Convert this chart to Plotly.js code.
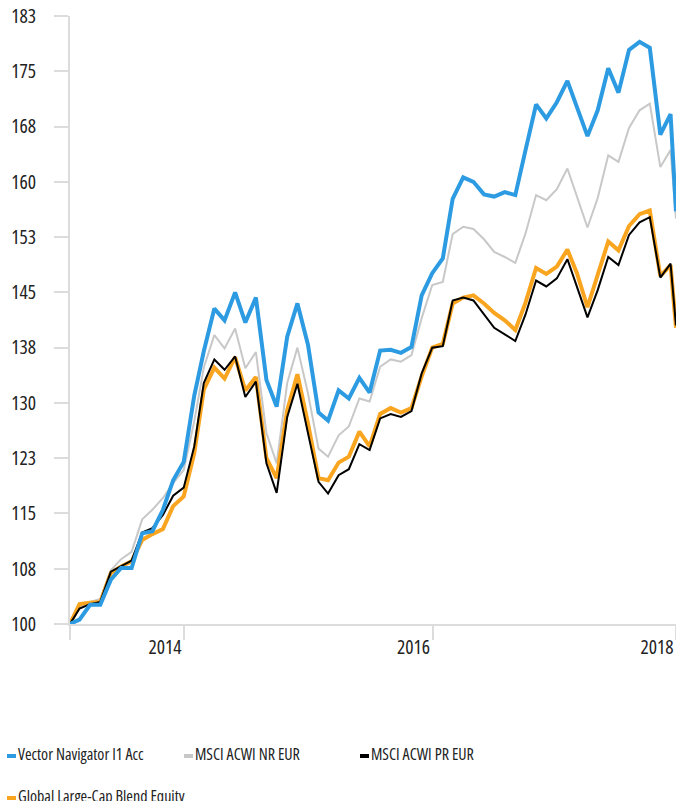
<!DOCTYPE html>
<html><head><meta charset="utf-8">
<script src="https://cdn.plot.ly/plotly-3.0.1.min.js"></script>
<style>html,body{margin:0;padding:0;background:#fff;} #chart{width:676px;height:801px;} svg text{font-stretch:75% !important;}</style>
</head><body><div id="chart"></div>
<script>
const dates = [
 '2013-01-31','2013-02-28','2013-03-31','2013-04-30','2013-05-31','2013-06-30','2013-07-31','2013-08-31','2013-09-30','2013-10-31','2013-11-30','2013-12-31',
 '2014-01-31','2014-02-28','2014-03-31','2014-04-30','2014-05-31','2014-06-30','2014-07-31','2014-08-31','2014-09-30','2014-10-31','2014-11-30','2014-12-31',
 '2015-01-31','2015-02-28','2015-03-31','2015-04-30','2015-05-31','2015-06-30','2015-07-31','2015-08-31','2015-09-30','2015-10-31','2015-11-30','2015-12-31',
 '2016-01-31','2016-02-29','2016-03-31','2016-04-30','2016-05-31','2016-06-30','2016-07-31','2016-08-31','2016-09-30','2016-10-31','2016-11-30','2016-12-31',
 '2017-01-31','2017-02-28','2017-03-31','2017-04-30','2017-05-31','2017-06-30','2017-07-31','2017-08-31','2017-09-30','2017-10-31','2017-11-30','2017-12-16'
];

const seriesNames = ['Vector Navigator I1 Acc','MSCI ACWI NR EUR','MSCI ACWI PR EUR','Global Large-Cap Blend Equity'];

const fundValues = [
 100.0,100.6,102.6,102.6,106.0,107.6,107.6,112.3,112.6,115.5,119.5,122.0,
 131.0,137.0,142.8,141.2,145.0,140.9,144.3,133.1,129.5,139.0,143.5,137.9,
 128.7,127.6,131.7,130.6,133.4,131.4,137.1,137.2,136.8,137.6,144.6,147.6,
 149.6,157.7,160.6,160.0,158.3,158.0,158.6,158.2,164.3,170.5,168.6,170.8,
 173.7,170.1,166.2,169.7,175.4,172.1,177.9,179.0,178.2,166.4,169.2,156.0
];
const acwiNrValues = [
 100.0,102.3,103.0,103.4,107.3,108.8,109.8,114.2,115.5,117.1,119.1,120.9,
 127.5,134.8,139.2,137.4,140.1,134.7,136.9,125.9,121.8,132.7,137.5,131.3,
 123.8,122.7,125.6,126.8,130.6,130.2,134.9,135.9,135.6,136.5,141.5,146.0,
 146.4,152.9,153.9,153.6,152.2,150.5,149.8,149.0,153.0,158.2,157.5,159.0,
 161.8,157.9,153.8,157.8,163.6,162.7,167.3,169.7,170.6,162.0,164.3,155.0
];
const acwiPrValues = [
 100.0,102.1,102.7,103.0,107.1,107.8,108.6,112.4,113.0,114.8,117.4,118.5,
 124.1,132.7,135.9,134.5,136.3,130.8,132.9,121.8,117.8,128.1,132.6,125.9,
 119.3,117.7,120.2,121.0,124.4,123.6,127.9,128.5,128.1,128.9,134.0,137.5,
 137.7,143.9,144.3,143.9,142.0,140.2,139.3,138.4,142.0,146.6,145.8,146.9,
 149.5,145.8,141.6,145.3,149.8,148.7,152.8,154.5,155.2,147.0,148.9,140.5
];
const categoryValues = [
 100.0,102.7,102.9,103.0,106.9,107.8,108.5,111.4,112.2,112.9,116.0,117.3,
 123.2,131.8,134.8,133.3,136.2,131.7,133.5,122.5,119.8,129.0,133.9,127.2,
 119.8,119.5,121.9,122.7,126.1,124.1,128.5,129.3,128.7,129.3,133.6,137.5,
 138.0,143.5,144.3,144.6,143.5,142.2,141.2,139.9,143.6,148.3,147.5,148.5,
 150.8,147.6,143.0,147.4,151.9,150.7,154.0,155.6,156.1,147.2,148.7,140.2
];

const yTickVals = [100,107.5,115,122.5,130,137.5,145,152.5,160,167.5,175,182.5];
const yTickText = ['100','108','115','123','130','138','145','153','160','168','175','183'];
const xTickVals = ['2013-01-31','2014-01-01','2016-01-01','2017-12-16'];
const xTickText = ['','2014','2016','2018'];
const xRange = ['2013-01-31','2017-12-16'];
const yRange = [100,182.5];

const colors = ['#2c9be2','#c8c8c8','#000000','#f9a51f'];
const widths = [4,2,2,4];
const FONT = "'Open Sans','Roboto Condensed',sans-serif";

const seriesData = [fundValues, acwiNrValues, acwiPrValues, categoryValues];
const drawOrder = [1,3,2,0];
const traces = drawOrder.map(k => ({
  type:'scatter', mode:'lines', x:dates, y:seriesData[k], name:seriesNames[k],
  line:{color:colors[k], width:widths[k]}, hoverinfo:'skip'
}));

const W = 676, H = 801, ML = 70, MT = 16, MB = 177;
const PW = W - ML, PH = H - MT - MB;
const px2x = p => (p - ML) / PW;
const px2y = p => (H - MB - p) / PH;

const legendPos = [
  {x:7, y:753.5}, {x:184, y:753.5}, {x:360, y:753.5}, {x:7, y:795.5}
];
const shapes = [], annotations = [];
legendPos.forEach((p,k) => {
  shapes.push({type:'rect', xref:'paper', yref:'paper',
    x0:px2x(p.x), x1:px2x(p.x+9), y0:px2y(p.y+4.5), y1:px2y(p.y+0.5),
    fillcolor:colors[k], line:{width:0}});
  annotations.push({xref:'paper', yref:'paper', x:px2x(p.x+9), y:px2y(p.y),
    xanchor:'left', yanchor:'middle', showarrow:false, text:seriesNames[k],
    font:{family:FONT, size:16, color:'#222'}});
});

const axisCommon = {
  showgrid:false, zeroline:false, showline:true, linecolor:'#dcdcdc', linewidth:2,
  ticks:'outside', ticklen:14, tickwidth:2, tickcolor:'#dcdcdc',
  tickfont:{family:FONT, size:19.5, color:'#222'}, fixedrange:true
};

const layout = {
  width:W, height:H, margin:{l:ML, r:0, t:MT, b:MB, pad:0},
  paper_bgcolor:'#ffffff', plot_bgcolor:'#ffffff', showlegend:false,
  xaxis:Object.assign({}, axisCommon, {type:'date', range:xRange, tickmode:'array',
    tickvals:xTickVals, ticktext:xTickText, ticklabelshift:-19, ticklabelstandoff:-9}),
  yaxis:Object.assign({}, axisCommon, {range:yRange, tickmode:'array',
    tickvals:yTickVals, ticktext:yTickText, ticklabelstandoff:14}),
  shapes:shapes, annotations:annotations
};

Plotly.newPlot('chart', traces, layout, {staticPlot:true, displayModeBar:false});
</script>
</body></html>
